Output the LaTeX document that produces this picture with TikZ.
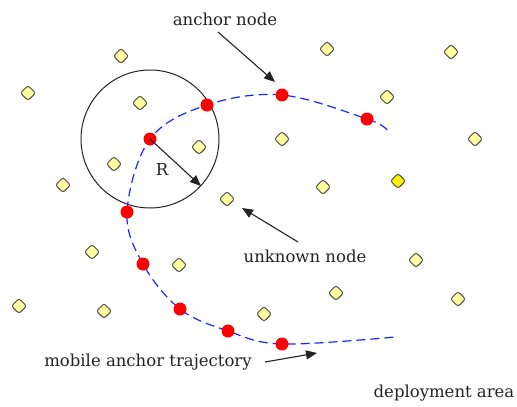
\documentclass[tikz,border=0pt]{standalone}
\usepackage{fontspec}
\setmainfont{DejaVu Serif}
\usetikzlibrary{arrows.meta,shapes.geometric}
\definecolor{nodeyel}{RGB}{255,255,160}
\definecolor{brightyel}{RGB}{255,240,0}
\definecolor{trajblue}{RGB}{20,40,255}
\definecolor{dotred}{RGB}{255,0,0}
\definecolor{inkgray}{RGB}{35,35,35}
\begin{document}
\begin{tikzpicture}[x=1pt,y=-1pt,
  sensor/.style={diamond,draw=black!70,fill=nodeyel,line width=1pt,inner sep=0pt,minimum size=15.5pt,rounded corners=2.5pt},
  brightsensor/.style={sensor,fill=brightyel},
  anchordot/.style={circle,fill=dotred,inner sep=0pt,minimum size=13pt},
  traj/.style={trajblue,line width=1.2pt,dash pattern=on 9pt off 5pt},
  pointer/.style={inkgray,line width=1.1pt,-{Triangle[length=11pt,width=9pt]}},
  lbl/.style={font=\fontsize{16.5}{20}\selectfont,text=inkgray,inner sep=0pt,anchor=base}
]
\useasboundingbox[fill=white] (0,0) rectangle (517,407);

% anchor positions along the trajectory
\coordinate (p1) at (367,119);
\coordinate (p2) at (282,95);
\coordinate (p3) at (207,105);
\coordinate (p4) at (150,139);
\coordinate (p5) at (127,212);
\coordinate (p6) at (143,264);
\coordinate (p7) at (180,309);
\coordinate (p8) at (228,331);
\coordinate (p9) at (282,344);
\coordinate (ts) at (387,130);
\coordinate (te) at (395,337);

% communication range
\node[circle,draw=inkgray,line width=1pt,minimum size=138pt,inner sep=0pt] (range) at (p4) {};

% trajectory
\draw[traj] plot[smooth,tension=0.6] coordinates {(ts) (p1) (p2) (p3) (p4) (p5) (p6) (p7) (p8) (p9) (te)};

% unknown nodes
\node[sensor] (u1) at (121,56) {};
\node[sensor] (u2) at (28,93) {};
\node[sensor] (u3) at (140,103) {};
\node[sensor] (u4) at (199,147) {};
\node[sensor] (u5) at (114,164) {};
\node[sensor] (u6) at (63,185) {};
\node[sensor] (u7) at (227,199) {};
\node[sensor] (u8) at (92,252) {};
\node[sensor] (u9) at (179,265) {};
\node[sensor] (u10) at (19,306) {};
\node[sensor] (u11) at (104,311) {};
\node[sensor] (u12) at (327,49) {};
\node[sensor] (u13) at (451,52) {};
\node[sensor] (u14) at (387,97) {};
\node[sensor] (u15) at (282,139) {};
\node[sensor] (u16) at (475,139) {};
\node[sensor] (u17) at (323,187) {};
\node[brightsensor] (u18) at (398,181) {};
\node[sensor] (u19) at (416,260) {};
\node[sensor] (u20) at (336,293) {};
\node[sensor] (u21) at (458,299) {};
\node[sensor] (u22) at (264,314) {};

% anchor nodes
\foreach \i in {1,...,9} \node[anchordot] (a\i) at (p\i) {};

% radius
\coordinate (rtip) at (201,186);
\draw[pointer] (a4.center) -- (rtip);
\node[lbl] (rlabel) at (162,175) {R};

% labels
\node[lbl] (lanchor) at (225,25) {anchor node};
\node[lbl] (lunknown) at (305,262) {unknown node};
\node[lbl] (lmobile) at (148,366) {mobile anchor trajectory};
\node[lbl] (larea) at (444,397) {deployment area};

% pointers
\coordinate (t1) at (218,32);
\coordinate (h1) at (275,82);
\draw[pointer] (t1) -- (h1);
\coordinate (t2) at (298,242);
\coordinate (h2) at (242,208);
\draw[pointer] (t2) -- (h2);
\coordinate (t3) at (265,362);
\coordinate (h3) at (317,353);
\draw[pointer] (t3) -- (h3);
\end{tikzpicture}
\end{document}
